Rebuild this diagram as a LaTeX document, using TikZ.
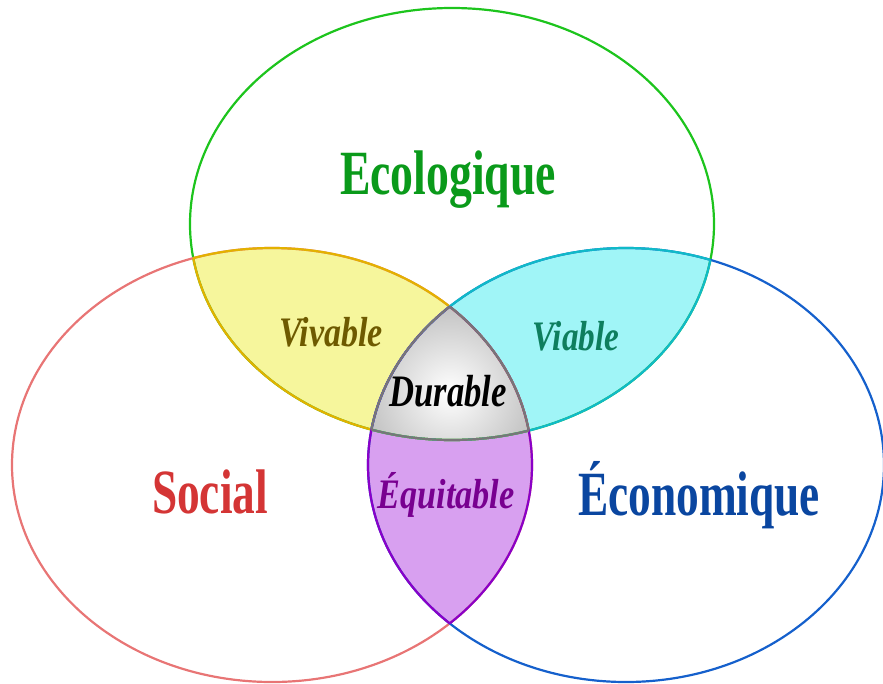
\documentclass[tikz,border=0pt]{standalone}
\usepackage{fontspec}
\setmainfont{Liberation Serif}
\usepackage{graphicx}
\definecolor{gLine}{HTML}{1DC41D}
\definecolor{rLine}{HTML}{E87575}
\definecolor{bLine}{HTML}{1560CC}
\definecolor{yFill}{HTML}{F6F69C}
\definecolor{yLine}{HTML}{E3B100}
\definecolor{cFill}{HTML}{A0F5F7}
\definecolor{cLine}{HTML}{10BAC8}
\definecolor{pFill}{HTML}{D8A0F0}
\definecolor{pLine}{HTML}{8A00C8}
\definecolor{dLine}{HTML}{777777}
\definecolor{dOut}{HTML}{A4A4A4}
\definecolor{tG}{HTML}{0A9A1A}
\definecolor{tR}{HTML}{D43535}
\definecolor{tB}{HTML}{0A46A0}
\definecolor{tY}{HTML}{6E5A00}
\definecolor{tC}{HTML}{0E7E5E}
\definecolor{tP}{HTML}{780090}
\begin{document}
\begin{tikzpicture}[x=1pt,y=-1pt,
  lbl/.style={anchor=base, inner sep=0pt},
  rim/.style={line width=2.2pt},
  big/.style={lbl, font=\bfseries\fontsize{63}{63}\selectfont},
  small/.style={lbl, font=\bfseries\itshape\fontsize{42}{42}\selectfont}]
\useasboundingbox (0,0) rectangle (883,683);
\def\Gell{(452,224) ellipse [x radius=262pt, y radius=216pt]}
\def\Rell{(272,465) ellipse [x radius=260pt, y radius=217pt]}
\def\Bell{(626,465) ellipse [x radius=258pt, y radius=217pt]}
% fills
\begin{scope}\clip \Gell; \clip \Rell; \fill[yFill] (0,0) rectangle (883,683);\end{scope}
\begin{scope}\clip \Gell; \clip \Bell; \fill[cFill] (0,0) rectangle (883,683);\end{scope}
\begin{scope}\clip \Rell; \clip \Bell; \fill[pFill] (0,0) rectangle (883,683);\end{scope}
\begin{scope}\clip \Gell; \clip \Rell; \clip \Bell;
  \shade[inner color=white, outer color=dOut] (450,392) circle (130pt);\end{scope}
% outer outlines
\draw[rim, gLine] \Gell;
\draw[rim, rLine] \Rell;
\draw[rim, bLine] \Bell;
% yellow lens rims
\begin{scope}\clip \Rell; \draw[rim, yLine] \Gell;\end{scope}
\begin{scope}\clip \Gell; \draw[rim, yLine] \Rell;\end{scope}
% cyan lens rims
\begin{scope}\clip \Bell; \draw[rim, cLine] \Gell;\end{scope}
\begin{scope}\clip \Gell; \draw[rim, cLine] \Bell;\end{scope}
% purple lens rims
\begin{scope}\clip \Bell; \draw[rim, pLine] \Rell;\end{scope}
\begin{scope}\clip \Rell; \draw[rim, pLine] \Bell;\end{scope}
% grey centre rims
\begin{scope}\clip \Rell; \clip \Bell; \draw[rim, dLine] \Gell;\end{scope}
\begin{scope}\clip \Gell; \clip \Bell; \draw[rim, dLine] \Rell;\end{scope}
\begin{scope}\clip \Gell; \clip \Rell; \draw[rim, dLine] \Bell;\end{scope}
% labels
\node[big, text=tG] (eco) at (448,194) {\scalebox{0.726}[1]{Ecologique}};
\node[big, text=tR] (soc) at (210,513) {\scalebox{0.72}[1]{Social}};
\node[big, text=tB] (econ) at (699,515) {\scalebox{0.72}[1]{Économique}};
\node[small, text=tY] (viv) at (331,346) {\scalebox{0.81}[1]{Vivable}};
\node[small, text=tC] (via) at (576,350) {\scalebox{0.79}[1]{Viable}};
\node[small, text=black, font=\bfseries\itshape\fontsize{45}{45}\selectfont] (dur) at (448,406) {\scalebox{0.77}[1]{Durable}};
\node[small, text=tP] (equ) at (446,508) {\scalebox{0.815}[1]{Équitable}};
\end{tikzpicture}
\end{document}
